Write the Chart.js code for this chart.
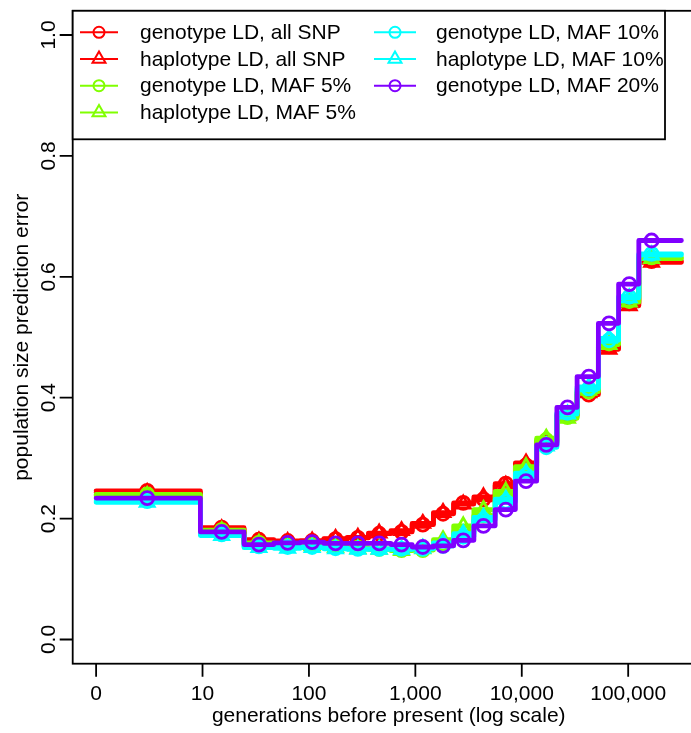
<!DOCTYPE html>
<html><head><meta charset="utf-8">
<script src="https://cdn.jsdelivr.net/npm/chart.js@4/dist/chart.umd.min.js"></script>
<style>html,body{margin:0;padding:0;background:#fff;overflow:hidden;}#wrap{width:720px;height:733px;}</style>
</head><body>
<div id="wrap"><canvas id="c" width="720" height="733"></canvas></div>
<script>
// bin edges on the log10 generation axis ("0" plotted at position 0)
const binEdgesLog10 = [0, 0.98, 1.39, 1.67, 1.92, 2.14, 2.36, 2.56, 2.77, 2.97, 3.17, 3.36, 3.55, 3.75, 3.94, 4.14, 4.33, 4.52, 4.72, 4.91, 5.10, 5.50];
const markerLog10 = [0.48, 1.18, 1.53, 1.80, 2.03, 2.25, 2.46, 2.66, 2.87, 3.07, 3.26, 3.45, 3.64, 3.85, 4.04, 4.23, 4.43, 4.63, 4.82, 5.01, 5.22];
const xTickPos = [0, 1, 2, 3, 4, 5];
const xTickLabels = ['0', '10', '100', '1,000', '10,000', '100,000'];
const yTickVals = [0, 0.2, 0.4, 0.6, 0.8, 1.0];
const yTickLabels = ['0.0', '0.2', '0.4', '0.6', '0.8', '1.0'];
const xTitle = 'generations before present (log scale)';
const yTitle = 'population size prediction error';

const seriesLabels = ['genotype LD, all SNP', 'haplotype LD, all SNP', 'genotype LD, MAF 5%', 'haplotype LD, MAF 5%', 'genotype LD, MAF 10%', 'haplotype LD, MAF 10%', 'genotype LD, MAF 20%'];
const seriesColors = ['#FF0000', '#FF0000', '#80FF00', '#80FF00', '#00FFFF', '#00FFFF', '#8000FF'];
const seriesMarkers = ['circle', 'triangle', 'circle', 'triangle', 'circle', 'triangle', 'circle'];

const genoAllSNP = [0.246, 0.185, 0.165, 0.163, 0.163, 0.166, 0.168, 0.175, 0.178, 0.190, 0.208, 0.226, 0.232, 0.258, 0.288, 0.325, 0.372, 0.405, 0.485, 0.556, 0.626];
const haploAllSNP = [0.243, 0.183, 0.163, 0.162, 0.163, 0.167, 0.169, 0.176, 0.180, 0.192, 0.210, 0.224, 0.236, 0.255, 0.292, 0.328, 0.370, 0.408, 0.480, 0.552, 0.624];
const genoMAF5 = [0.240, 0.181, 0.160, 0.157, 0.156, 0.153, 0.152, 0.150, 0.148, 0.148, 0.158, 0.178, 0.205, 0.238, 0.280, 0.330, 0.368, 0.410, 0.490, 0.560, 0.632];
const haploMAF5 = [0.238, 0.180, 0.159, 0.156, 0.155, 0.152, 0.150, 0.149, 0.147, 0.150, 0.165, 0.188, 0.215, 0.245, 0.286, 0.333, 0.366, 0.412, 0.488, 0.558, 0.630];
const genoMAF10 = [0.229, 0.174, 0.154, 0.153, 0.153, 0.151, 0.150, 0.150, 0.150, 0.150, 0.155, 0.170, 0.198, 0.228, 0.272, 0.318, 0.375, 0.415, 0.495, 0.567, 0.638];
const haploMAF10 = [0.227, 0.172, 0.152, 0.151, 0.152, 0.150, 0.149, 0.149, 0.149, 0.151, 0.160, 0.175, 0.202, 0.232, 0.275, 0.320, 0.373, 0.418, 0.498, 0.565, 0.636];
const genoMAF20 = [0.234, 0.178, 0.157, 0.160, 0.161, 0.159, 0.159, 0.159, 0.157, 0.153, 0.155, 0.164, 0.188, 0.215, 0.262, 0.322, 0.384, 0.435, 0.523, 0.588, 0.660];

const seriesValues = [genoAllSNP, haploAllSNP, genoMAF5, haploMAF5, genoMAF10, haploMAF10, genoMAF20];

const FONT = '21px "Liberation Sans", Arial, sans-serif';

const datasets = [];
seriesValues.forEach((vals, k) => {
  const stepPts = binEdgesLog10.map((e, i) => ({x: e, y: vals[Math.min(i, vals.length - 1)]}));
  datasets.push({
    label: seriesLabels[k], data: stepPts, stepped: true,
    borderColor: seriesColors[k], borderWidth: 4.8, pointRadius: 0,
    borderJoinStyle: 'round', borderCapStyle: 'round', fill: false,
    order: 100 - 2 * k, clip: false
  });
  datasets.push({
    label: seriesLabels[k] + ' markers', data: markerLog10.map((m, i) => ({x: m, y: vals[i]})),
    showLine: false, pointStyle: seriesMarkers[k],
    pointRadius: seriesMarkers[k] === 'circle' ? 6.5 : 8,
    pointBorderWidth: 2.8, pointBorderColor: seriesColors[k],
    pointBackgroundColor: 'rgba(0,0,0,0)', borderColor: seriesColors[k],
    order: 99 - 2 * k, clip: false
  });
});

function drawMarker(ctx, style, cx, cy, r) {
  ctx.beginPath();
  if (style === 'circle') {
    ctx.arc(cx, cy, r, 0, Math.PI * 2);
  } else {
    for (let j = 0; j < 3; j++) {
      const ang = j * 2 * Math.PI / 3;
      const px = cx + Math.sin(ang) * r, py = cy - Math.cos(ang) * r;
      if (j === 0) ctx.moveTo(px, py); else ctx.lineTo(px, py);
    }
    ctx.closePath();
  }
  ctx.stroke();
}

const rStyle = {
  id: 'rStyle',
  afterDraw(chart) {
    const ctx = chart.ctx, a = chart.chartArea, x = chart.scales.x, y = chart.scales.y;
    ctx.save();
    ctx.strokeStyle = '#000'; ctx.lineWidth = 1.8; ctx.lineCap = 'butt';
    ctx.strokeRect(a.left, a.top, a.right - a.left, a.bottom - a.top);
    ctx.beginPath();
    xTickPos.forEach(v => { const px = x.getPixelForValue(v); ctx.moveTo(px, a.bottom); ctx.lineTo(px, a.bottom + 13); });
    yTickVals.forEach(v => { const py = y.getPixelForValue(v); ctx.moveTo(a.left, py); ctx.lineTo(a.left - 13, py); });
    ctx.stroke();
    ctx.fillStyle = '#000'; ctx.font = FONT;
    ctx.textAlign = 'center'; ctx.textBaseline = 'alphabetic';
    xTickPos.forEach((v, i) => ctx.fillText(xTickLabels[i], x.getPixelForValue(v), 700));
    ctx.fillText(xTitle, (a.left + a.right) / 2, 722);
    yTickVals.forEach((v, i) => {
      ctx.save(); ctx.translate(55, y.getPixelForValue(v)); ctx.rotate(-Math.PI / 2);
      ctx.fillText(yTickLabels[i], 0, 0); ctx.restore();
    });
    ctx.save(); ctx.translate(28, (a.top + a.bottom) / 2); ctx.rotate(-Math.PI / 2);
    ctx.fillText(yTitle, 0, 0); ctx.restore();

    // legend (R style, column-major)
    const lx = a.left, ly = a.top, lw = 665 - a.left, lh = 139.3 - a.top;
    ctx.fillStyle = '#fff'; ctx.fillRect(lx, ly, lw, lh);
    ctx.strokeStyle = '#000'; ctx.lineWidth = 1.8; ctx.strokeRect(lx, ly, lw, lh);
    const cols = [{l1: 80, l2: 118, m: 99, t: 140}, {l1: 374, l2: 416, m: 395, t: 436}];
    ctx.font = FONT; ctx.textAlign = 'left'; ctx.textBaseline = 'middle';
    seriesLabels.forEach((lab, k) => {
      const c = cols[Math.floor(k / 4)], row = k % 4;
      const yy = 32.3 + 26.7 * row;
      ctx.strokeStyle = seriesColors[k]; ctx.lineWidth = 2;
      ctx.beginPath(); ctx.moveTo(c.l1, yy); ctx.lineTo(c.l2, yy); ctx.stroke();
      drawMarker(ctx, seriesMarkers[k], c.m, yy, seriesMarkers[k] === 'circle' ? 5.5 : 7.5);
      ctx.fillStyle = '#000'; ctx.fillText(lab, c.t, yy + 1);
    });
    ctx.restore();
  }
};

new Chart(document.getElementById('c'), {
  type: 'line',
  data: {datasets},
  options: {
    responsive: false, animation: false, devicePixelRatio: 1,
    layout: {padding: {left: 72.7, top: 5.3, right: 720 - 704.8, bottom: 733 - 663.7}},
    plugins: {legend: {display: false}, tooltip: {enabled: false}},
    scales: {
      x: {type: 'linear', min: -0.22, max: 5.72, display: false},
      y: {type: 'linear', min: -0.04, max: 1.04, display: false}
    }
  },
  plugins: [rStyle]
});
</script>
</body></html>
